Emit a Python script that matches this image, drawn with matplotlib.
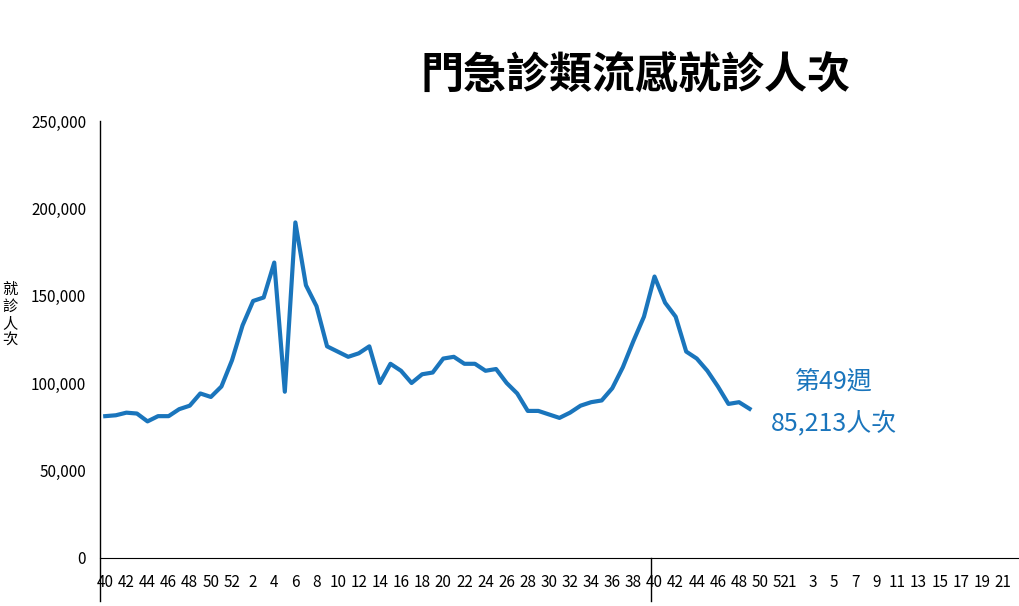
import numpy as np
import matplotlib.pyplot as plt

plt.rcParams['font.family'] = ['Noto Sans CJK TC', 'DejaVu Sans']

# week labels along the axis (two seasons, week 40 onwards)
WEEKS = list(range(40, 53)) + list(range(1, 40)) + list(range(40, 53)) + list(range(1, 23))

# weekly visits, in thousands, from week 40 of season 1 to week 49 of season 2
VISITS_K = [81, 81.5, 83, 82.5, 78, 81, 81, 85, 87, 94, 92, 98, 113,
            133, 147, 149, 169, 95, 192, 156, 144, 121, 118, 115, 117, 121,
            100, 111, 107, 100, 105, 106, 114, 115, 111, 111, 107, 108, 100,
            94, 84, 84, 82, 80, 83, 87, 89, 90, 97, 109, 124, 138,
            161, 146, 138, 118, 114, 107, 98, 88, 89, 85.213]

BLUE = "#1a75bc"

fig, ax = plt.subplots(figsize=(10.2, 6.06), dpi=100)
fig.subplots_adjust(left=0.098, right=1.0, top=0.80, bottom=0.08)

x = np.arange(len(VISITS_K))
ax.plot(x, np.array(VISITS_K) * 1000, color=BLUE, lw=3)

ax.set_ylim(0, 250000)
ax.set_yticks(np.arange(0, 250001, 50000))
ax.set_yticklabels([f"{v:,}" for v in range(0, 250001, 50000)], fontsize=11)
ax.set_xlim(-0.5, 86.6)
ticks = list(range(0, 65, 2)) + list(range(65, 87, 2))
ax.set_xticks(ticks)
ax.set_xticklabels([str(WEEKS[i]) for i in ticks], fontsize=11)
ax.tick_params(length=0, pad=10)
ax.tick_params(axis="x", pad=12)

for s in ["top", "right", "left"]:
    ax.spines[s].set_visible(False)
ax.axvline(-0.5, ymin=-0.1, ymax=1.0, color="black", lw=1, clip_on=False)
ax.axvline(51.7, ymin=-0.1, ymax=0.0, color="black", lw=1, clip_on=False)

fig.text(0.010, 0.48, "就\n診\n人\n次", fontsize=11,
         ha="center", va="center", linespacing=1.0)
ax.text(69, 97000, "第49週", color=BLUE, fontsize=18, ha="center")
ax.text(69, 73000, "85,213人次", color=BLUE, fontsize=18, ha="center")

fig.text(0.623, 0.855, "門急診類流感就診人次", fontsize=31, fontweight="bold", ha="center")

fig.savefig("out.png")
